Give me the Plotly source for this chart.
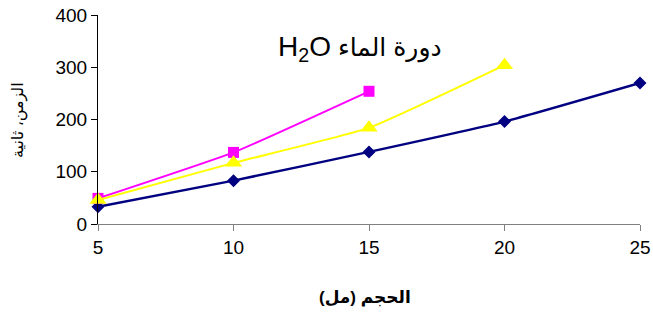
import plotly.graph_objects as go

x_blue = [5, 10, 15, 20, 25]
y_blue = [33, 83, 138, 196, 270]
x_pink = [5, 10, 15]
y_pink = [49, 137, 254]
x_yellow = [5, 10, 15, 20]
y_yellow = [46, 117, 184, 304]

x_ticks = [5, 10, 15, 20, 25]
y_ticks = [0, 100, 200, 300, 400]

title_text = "<span style='font-size:28px'>H<sub>2</sub>O</span> دورة الماء"
x_title = "<b>الحجم (مل)</b>"
y_title = "الزمن، ثانية"

FONT = "Liberation Sans, Arial, DejaVu Sans, sans-serif"

# plot area target: x 98..640, y 15..224
W, H = 653, 320
L, T, R, B = 98, 15, 13, 96

fig = go.Figure()
fig.add_trace(go.Scatter(x=x_blue, y=y_blue, mode="lines+markers",
                         line=dict(color="#000080", width=2.5, shape="spline", smoothing=0.4),
                         marker=dict(symbol="diamond", size=10, color="#000080"),
                         cliponaxis=False, showlegend=False))
fig.add_trace(go.Scatter(x=x_pink, y=y_pink, mode="lines+markers",
                         line=dict(color="#FF00FF", width=2, shape="spline", smoothing=0.4),
                         marker=dict(symbol="square", size=11, color="#FF00FF"),
                         cliponaxis=False, showlegend=False))
fig.add_trace(go.Scatter(x=x_yellow, y=y_yellow, mode="lines+markers",
                         line=dict(color="#FFFF00", width=2, shape="spline", smoothing=0.4),
                         marker=dict(symbol="triangle-up", size=15, color="#FFFF00"),
                         cliponaxis=False, showlegend=False))

fig.update_layout(
    width=W, height=H,
    margin=dict(l=L, r=R, t=T, b=B),
    paper_bgcolor="white", plot_bgcolor="white",
    font=dict(family=FONT, color="black"),
    xaxis=dict(range=[5, 25], tickvals=x_ticks, showgrid=False, zeroline=False,
               showline=True, linecolor="#808080", linewidth=1, automargin=False,
               ticks="outside", ticklen=6, tickcolor="#808080", ticklabeloverflow="allow",
               tickfont=dict(size=19, family=FONT), fixedrange=True),
    yaxis=dict(range=[0, 400], tickvals=y_ticks, showgrid=False, zeroline=False,
               showline=True, linecolor="black", linewidth=1, automargin=False,
               ticks="outside", ticklen=6, tickcolor="black", ticklabeloverflow="allow",
               tickfont=dict(size=19, family=FONT), fixedrange=True),
    annotations=[
        dict(text=title_text, xref="paper", yref="paper", x=(360 - 98) / 542, y=(224 - 48) / 209,
             showarrow=False, font=dict(size=25, family=FONT), xanchor="center", yanchor="middle"),
        dict(text=x_title, xref="paper", yref="paper", x=(365 - 98) / 542, y=-(297 - 224) / 209,
             showarrow=False, font=dict(size=17, family=FONT), xanchor="center", yanchor="middle"),
        dict(text=y_title, xref="paper", yref="paper", x=-(98 - 18) / 542, y=(224 - 120) / 209,
             showarrow=False, textangle=-90, font=dict(size=16, family=FONT),
             xanchor="center", yanchor="middle"),
    ],
)

fig.write_html("out.html", config={"displayModeBar": False, "staticPlot": True},
               post_script="document.body.style.margin='0';")
